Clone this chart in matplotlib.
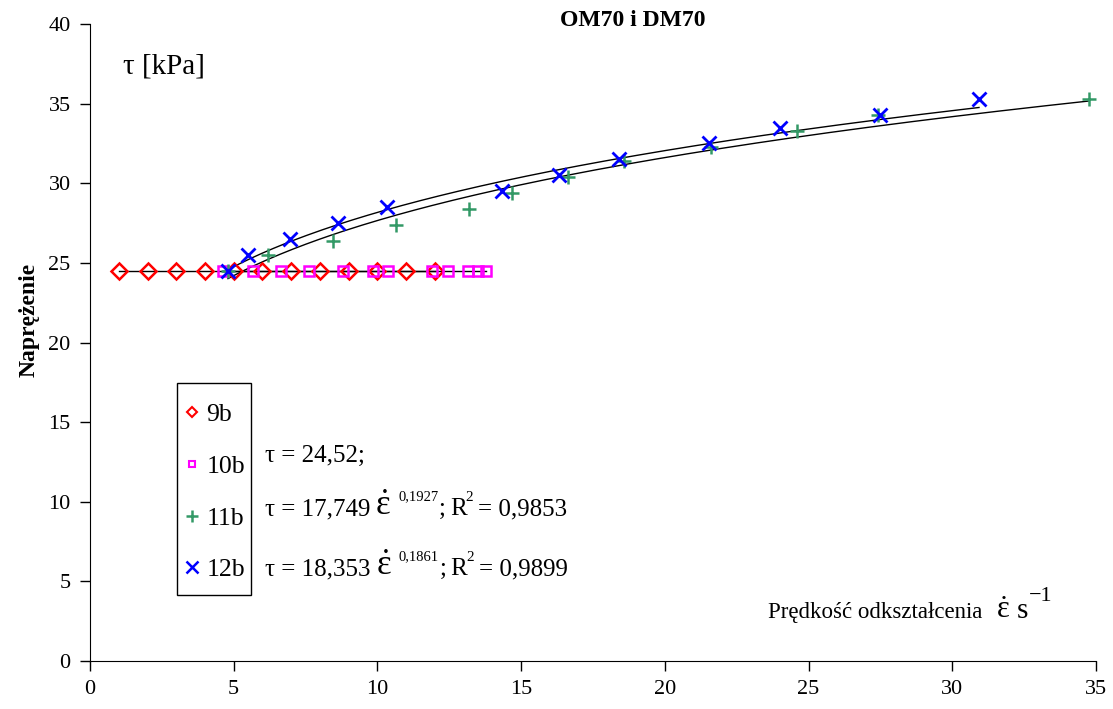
import numpy as np
import matplotlib.pyplot as plt
import matplotlib.transforms as mtransforms
from matplotlib.lines import Line2D
from matplotlib.patches import Rectangle

plt.rcParams["font.family"] = ["Liberation Serif", "DejaVu Serif"]
plt.rcParams["mathtext.fontset"] = "custom"
plt.rcParams["mathtext.rm"] = "Liberation Serif"
plt.rcParams["mathtext.it"] = "Liberation Serif:italic"

# data
x_9b = [1, 2, 3, 4, 5, 6, 7, 8, 9, 10, 11, 12]
y_9b = [24.52] * 12

x_10b = [4.63, 5.67, 6.65, 7.62, 8.8, 9.85, 10.37, 11.9, 12.46, 13.15, 13.5, 13.78]
y_10b = [24.52] * 12

x_11b = [4.8, 6.19, 8.45, 10.65, 13.19, 14.68, 16.63, 18.58, 21.6, 24.6, 27.42, 34.76]
y_11b = [24.5, 25.5, 26.4, 27.4, 28.4, 29.4, 30.4, 31.4, 32.3, 33.3, 34.3, 35.3]

x_12b = [4.8, 5.5, 6.96, 8.63, 10.33, 14.34, 16.32, 18.4, 21.53, 24.0, 27.49, 30.93]
y_12b = [24.5, 25.5, 26.5, 27.5, 28.5, 29.5, 30.5, 31.5, 32.5, 33.5, 34.3, 35.3]

fit_const = "24,52"
fit_11b = (17.749, 0.1927, "17,749", "0,1927", "0,9853")
fit_12b = (18.353, 0.1861, "18,353", "0,1861", "0,9899")

fig = plt.figure(figsize=(11.13, 7.09), dpi=100)
ax = fig.add_axes([0.0809, 0.0677, 0.9038, 0.8984])
renderer = fig.canvas.get_renderer()


def text_run(x, y, parts):
    # parts: (text, fontsize, raise in points, gap before in px) along one baseline
    for s, size, dy, gap in parts:
        x += gap / ax.bbox.width
        tr = mtransforms.offset_copy(ax.transAxes, fig=fig, x=0, y=dy, units="points")
        t = ax.text(x, y, s, fontsize=size, transform=tr, va="baseline", ha="left")
        x += t.get_window_extent(renderer).width / ax.bbox.width


# trend lines
ax.plot([min(x_9b), max(x_9b)], [24.52, 24.52], color="k", lw=1)
ax.plot([min(x_10b), max(x_10b)], [24.52, 24.52], color="k", lw=1)
xs = np.linspace(min(x_11b), max(x_11b), 200)
ax.plot(xs, fit_11b[0] * xs ** fit_11b[1], color="k", lw=1)
xs = np.linspace(min(x_12b), max(x_12b), 200)
ax.plot(xs, fit_12b[0] * xs ** fit_12b[1], color="k", lw=1)

# points
ax.plot(x_9b, y_9b, ls="none", marker="D", ms=8, mfc="none", mec="#FF0000", mew=1.8)
ax.plot(x_10b, y_10b, ls="none", marker="s", ms=7, mfc="none", mec="#FF00FF", mew=1.8)
ax.plot(x_11b, y_11b, ls="none", marker="+", ms=10, mec="#339966", mew=1.8)
ax.plot(x_12b, y_12b, ls="none", marker="x", ms=10, mec="#0000FF", mew=2)

ax.set_xlim(0, 35)
ax.set_ylim(0, 40)
ax.set_xticks(range(0, 36, 5))
ax.set_yticks(range(0, 41, 5))
ax.spines["top"].set_visible(False)
ax.spines["right"].set_visible(False)
ax.tick_params(direction="out", length=7, width=1, labelsize=16, pad=7)

ax.text(0.54, 1.006, "OM70 i DM70", transform=ax.transAxes, fontsize=17,
        fontweight="bold", ha="center", va="center")
ax.set_ylabel("Naprężenie", fontsize=17, fontweight="bold")
ax.yaxis.set_label_coords(-0.05, 0.535)

ax.text(0.033, 0.933, "τ [kPa]", transform=ax.transAxes, fontsize=21, va="center")

eps = r"$\dot{\mathrm{ε}}$"
text_run(0.674, 0.0675, [("Prędkość odkształcenia", 16.5, 0, 0), (eps, 22, 0, 14),
                         ("s", 21, 0, 6), ("−1", 16, 12, 1)])

text_run(0.174, 0.3124, [(f"τ = {fit_const};", 18, 0, 0)])
for yy, (_, _, a, b, r2) in zip([0.2292, 0.135], [fit_11b, fit_12b]):
    text_run(0.174, yy, [(f"τ = {a}", 18, 0, 0), (eps, 25, 0, 5),
                         (b, 10.5, 11, 7), (";", 18, 0, 1), ("R", 18, 0, 4),
                         ("2", 11, 10, -1), (f"= {r2}", 18, 0, 5)])

# legend with hand-placed box
ax.add_patch(Rectangle((0.0865, 0.1036), 0.0735, 0.3328, transform=ax.transAxes,
                       fill=False, ec="k", lw=1, zorder=5))
handles = [
    Line2D([], [], ls="none", marker="D", ms=5, mfc="none", mec="#FF0000", mew=1.5),
    Line2D([], [], ls="none", marker="s", ms=5, mfc="none", mec="#FF00FF", mew=1.5),
    Line2D([], [], ls="none", marker="+", ms=9, mec="#339966", mew=1.8),
    Line2D([], [], ls="none", marker="x", ms=8, mec="#0000FF", mew=1.8),
]
ax.legend(handles, ["9b", "10b", "11b", "12b"], loc="upper left",
          bbox_to_anchor=(0.0865, 0.419), fontsize=18.5, frameon=False,
          handlelength=0.5, handletextpad=0.3, labelspacing=1.12, borderpad=0.35,
          borderaxespad=0)

fig.savefig("out.png", dpi=100)
